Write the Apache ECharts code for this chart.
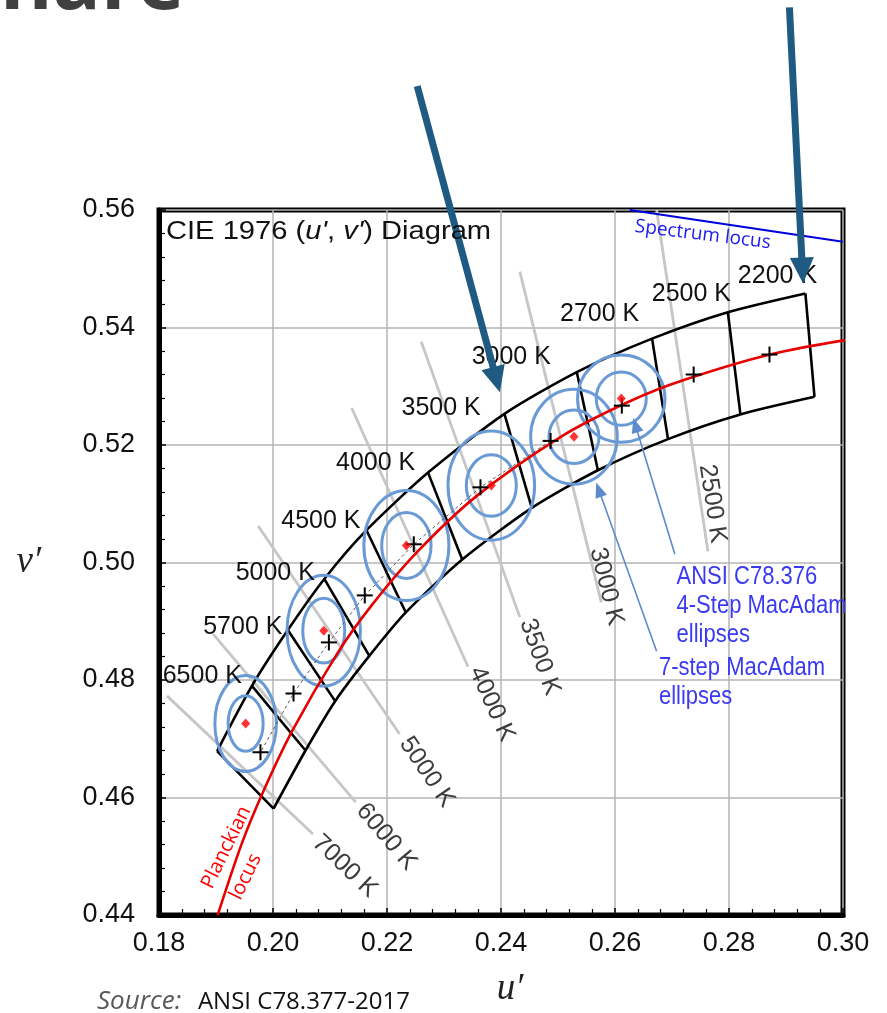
<!DOCTYPE html>
<html>
<head>
<meta charset="utf-8">
<script src="https://cdn.jsdelivr.net/npm/echarts@6/dist/echarts.min.js"></script>
<style>
html, body { margin: 0; padding: 0; background: #fff; }
#chart { width: 887px; height: 1013px; }
</style>
</head>
<body>
<div id="chart"></div>
<script>
// Planckian locus (u', v')
var planckU = [0.1903, 0.1945, 0.1981, 0.2033, 0.2114, 0.2173, 0.2251, 0.2357, 0.2505, 0.2625, 0.2722, 0.2876, 0.3051];
var planckV = [0.4400, 0.4521, 0.4606, 0.4712, 0.4847, 0.4927, 0.5016, 0.5113, 0.5214, 0.5274, 0.5311, 0.5355, 0.5386];

// spectrum locus piece in the top right corner
var spectrumU = [0.2626, 0.3000];
var spectrumV = [0.5600, 0.5546];

// ANSI nominal CCT centres (+) and their labels
var cctNames = ['2200 K', '2500 K', '2700 K', '3000 K', '3500 K', '4000 K', '4500 K', '5000 K', '5700 K', '6500 K'];
var centerU = [0.2871, 0.2738, 0.2612, 0.2487, 0.2364, 0.2247, 0.2161, 0.2098, 0.2036, 0.1978];
var centerV = [0.5354, 0.5320, 0.5267, 0.5207, 0.5128, 0.5031, 0.4944, 0.4864, 0.4777, 0.4677];
var cctLabelU = [0.2885, 0.2734, 0.2573, 0.2418, 0.2295, 0.2180, 0.2084, 0.2004, 0.1947, 0.1876];
var cctLabelV = [0.5488, 0.5457, 0.5422, 0.5349, 0.5262, 0.5169, 0.5071, 0.4982, 0.4890, 0.4807];

// quadrangle corners, from 7000 K side to 2000 K side
var upperU = [0.1902, 0.1963, 0.2026, 0.2090, 0.2164, 0.2272, 0.2406, 0.2533, 0.2665, 0.2798, 0.2934];
var upperV = [0.4679, 0.4790, 0.4885, 0.4972, 0.5055, 0.5153, 0.5253, 0.5324, 0.5381, 0.5426, 0.5458];
var lowerU = [0.2001, 0.2057, 0.2109, 0.2169, 0.2233, 0.2332, 0.2454, 0.2570, 0.2693, 0.2820, 0.2950];
var lowerV = [0.4581, 0.4680, 0.4764, 0.4841, 0.4915, 0.5005, 0.5093, 0.5157, 0.5210, 0.5252, 0.5282];

// MacAdam ellipses: centres (red diamonds) and semi axes
var ellU = [0.1952, 0.2089, 0.2234, 0.2383, 0.2528, 0.2611];
var ellV = [0.4726, 0.4884, 0.5029, 0.5131, 0.5214, 0.5279];
var step7RU = [0.00540, 0.00644, 0.00746, 0.00760, 0.00760, 0.00767];
var step7RV = [0.00816, 0.00943, 0.00935, 0.00930, 0.00807, 0.00743];
var step4RU = [0.00307, 0.00368, 0.00433, 0.00439, 0.00439, 0.00439];
var step4RV = [0.00473, 0.00552, 0.00561, 0.00524, 0.00454, 0.00454];

// isotherm lines (grey) and their labels
var isoNames = ['7000 K', '6000 K', '5000 K', '4000 K', '3500 K', '3000 K', '2500 K'];
var isoU1 = [0.1814, 0.1895, 0.1974, 0.2138, 0.2260, 0.2433, 0.2673];
var isoV1 = [0.4773, 0.4878, 0.5062, 0.5263, 0.5376, 0.5495, 0.5600];
var isoU2 = [0.2070, 0.2145, 0.2222, 0.2342, 0.2433, 0.2576, 0.2763];
var isoV2 = [0.4538, 0.4592, 0.4708, 0.4823, 0.4907, 0.4932, 0.5019];
var isoLabelU = [0.2126, 0.2199, 0.2270, 0.2384, 0.2468, 0.2585, 0.2771];
var isoLabelV = [0.4483, 0.4533, 0.4643, 0.4759, 0.4839, 0.4959, 0.5100];

// arrows: [u start, v start, u tip, v tip]
var bigArrows = [[0.2253, 0.5811, 0.2398, 0.5290], [0.2906, 0.5945, 0.2930, 0.5475]];
var thinArrows = [[0.2705, 0.5014, 0.2632, 0.5246], [0.2673, 0.4849, 0.2567, 0.5136]];

// notes
var noteTexts = ['Spectrum locus', 'Planckian', 'locus', 'ANSI C78.376\n4-Step MacAdam\nellipses', '7-step MacAdam\nellipses'];
var noteU = [0.2754, 0.1918, 0.1952, 0.2708, 0.2677];
var noteV = [0.5558, 0.4515, 0.4465, 0.5000, 0.4845];

var SANS = '"Liberation Sans", Arial, sans-serif';
var noteStyles = [
    { fill: '#1a1af0', font: '19px "Open Sans", sans-serif', rot: -7, align: 'center', va: 'middle', sx: 1 },
    { fill: '#ff0000', font: '20px "Open Sans", sans-serif', rot: 64, align: 'center', va: 'middle', sx: 1 },
    { fill: '#ff0000', font: '20px "Open Sans", sans-serif', rot: 64, align: 'center', va: 'middle', sx: 1 },
    { fill: '#3a3af2', font: '25px ' + SANS, rot: 0, align: 'left', va: 'top', sx: 0.88, lh: 29 },
    { fill: '#3a3af2', font: '25px ' + SANS, rot: 0, align: 'left', va: 'top', sx: 0.88, lh: 29 }
];

function pairs(us, vs) {
    return us.map(function (u, i) { return [u, vs[i]]; });
}

function arrowRender(color, width, headLen, headHalf) {
    return function (params, api) {
        var a = api.coord([api.value(0), api.value(1)]);
        var b = api.coord([api.value(2), api.value(3)]);
        var dx = b[0] - a[0], dy = b[1] - a[1];
        var L = Math.sqrt(dx * dx + dy * dy), ux = dx / L, uy = dy / L;
        var bx = b[0] - ux * headLen, by = b[1] - uy * headLen;
        return {
            type: 'group',
            children: [
                { type: 'line', shape: { x1: a[0], y1: a[1], x2: bx + ux * 2, y2: by + uy * 2 }, style: { stroke: color, lineWidth: width } },
                { type: 'polygon', shape: { points: [[b[0], b[1]], [bx - uy * headHalf, by + ux * headHalf], [bx + uy * headHalf, by - ux * headHalf]] }, style: { fill: color } }
            ]
        };
    };
}

var chart = echarts.init(document.getElementById('chart'));

var option = {
    animation: false,
    backgroundColor: '#fff',
    grid: {
        left: 159, right: 44, top: 210, bottom: 97,
        show: true, borderColor: '#000', borderWidth: 5, backgroundColor: 'transparent'
    },
    xAxis: {
        type: 'value', min: 0.18, max: 0.30, interval: 0.02,
        axisLine: { show: true, lineStyle: { color: '#000', width: 5 } },
        axisTick: { show: true, inside: true, length: 7, lineStyle: { color: '#000', width: 1.5 } },
        minorTick: { show: true, splitNumber: 5, length: 6, lineStyle: { color: '#000', width: 1.2 } },
        splitLine: { show: true, lineStyle: { color: '#b4b4b4', width: 1.5 } },
        axisLabel: { formatter: function (v) { return v.toFixed(2); }, fontSize: 27, color: '#111', fontFamily: SANS, margin: 15 },
        name: 'u\u2032', nameLocation: 'middle', nameGap: 56,
        nameTextStyle: { fontFamily: '"Liberation Serif", serif', fontStyle: 'italic', fontSize: 37, color: '#222', padding: [0, 0, 0, 18] }
    },
    yAxis: {
        type: 'value', min: 0.44, max: 0.56, interval: 0.02,
        axisLine: { show: true, lineStyle: { color: '#000', width: 5 } },
        axisTick: { show: true, inside: true, length: 7, lineStyle: { color: '#000', width: 1.5 } },
        minorTick: { show: true, splitNumber: 5, length: 6, lineStyle: { color: '#000', width: 1.2 } },
        splitLine: { show: true, lineStyle: { color: '#b4b4b4', width: 1.5 } },
        axisLabel: { formatter: function (v) { return v.toFixed(2); }, fontSize: 27, color: '#111', fontFamily: SANS, margin: 24 },
        name: 'v\u2032', nameLocation: 'middle', nameGap: 118, nameRotate: 0,
        nameTextStyle: { fontFamily: '"Liberation Serif", serif', fontStyle: 'italic', fontSize: 37, color: '#222' }
    },
    graphic: [
        {
            type: 'text', x: 166, y: 219, scaleX: 1.12, z: 100,
            style: {
                text: 'CIE 1976 ({i|u\'}, {i|v\'}) Diagram',
                font: '26px ' + SANS, fill: '#111',
                rich: { i: { fontStyle: 'italic', fontSize: 26, fontFamily: SANS, fill: '#111' } }
            }
        },
        {
            type: 'text', x: 97, y: 1002, z: 100,
            style: {
                text: '{s|Source:}  {n|ANSI C78.377-2017}',
                verticalAlign: 'middle',
                rich: {
                    s: { fontStyle: 'italic', fontSize: 26, fontFamily: '"Open Sans", sans-serif', fill: '#595959', padding: [0, 10, 0, 0] },
                    n: { fontSize: 24, fontFamily: '"Open Sans", sans-serif', fill: '#111' }
                }
            }
        },
        {
            type: 'text', x: 0, y: -14, z: 100,
            style: { text: 'nare', font: 'bold 80px "Open Sans", sans-serif', fill: '#404040', verticalAlign: 'middle' }
        }
    ],
    series: [
        {
            // grey isotherm lines
            type: 'custom', z: 2, silent: true,
            data: isoU1.map(function (u, i) { return [u, isoV1[i], isoU2[i], isoV2[i]]; }),
            renderItem: function (params, api) {
                var a = api.coord([api.value(0), api.value(1)]);
                var b = api.coord([api.value(2), api.value(3)]);
                return { type: 'line', shape: { x1: a[0], y1: a[1], x2: b[0], y2: b[1] }, style: { stroke: '#c6c6c6', lineWidth: 2.8 } };
            }
        },
        {
            // isotherm labels
            type: 'custom', z: 7, silent: true,
            data: pairs(isoLabelU, isoLabelV),
            renderItem: function (params, api) {
                var i = params.dataIndex;
                var c = api.coord([api.value(0), api.value(1)]);
                var a = api.coord([isoU1[i], isoV1[i]]);
                var b = api.coord([isoU2[i], isoV2[i]]);
                var rot = Math.atan2(-(b[1] - a[1]), b[0] - a[0]);
                return {
                    type: 'text', x: c[0], y: c[1], rotation: rot,
                    style: { text: isoNames[i], font: '25px ' + SANS, fill: '#3c3c3c', align: 'center', verticalAlign: 'middle' }
                };
            }
        },
        {
            name: 'Spectrum locus', type: 'line', z: 3, silent: true, showSymbol: false,
            data: pairs(spectrumU, spectrumV),
            lineStyle: { color: '#0000dd', width: 2 }
        },
        {
            name: 'upper', type: 'line', z: 3, silent: true, showSymbol: false, smooth: 0.25,
            data: pairs(upperU, upperV),
            lineStyle: { color: '#000', width: 2.6 }
        },
        {
            name: 'lower', type: 'line', z: 3, silent: true, showSymbol: false, smooth: 0.25,
            data: pairs(lowerU, lowerV),
            lineStyle: { color: '#000', width: 2.6 }
        },
        {
            // quadrangle isotherm edges
            type: 'custom', z: 3, silent: true,
            data: upperU.map(function (u, i) { return [u, upperV[i], lowerU[i], lowerV[i]]; }),
            renderItem: function (params, api) {
                var a = api.coord([api.value(0), api.value(1)]);
                var b = api.coord([api.value(2), api.value(3)]);
                return { type: 'line', shape: { x1: a[0], y1: a[1], x2: b[0], y2: b[1] }, style: { stroke: '#000', lineWidth: 2.6 } };
            }
        },
        {
            // MacAdam ellipses
            type: 'custom', z: 4, silent: true,
            data: ellU.map(function (u, i) { return [u, ellV[i], step7RU[i], step7RV[i], step4RU[i], step4RV[i]]; }),
            renderItem: function (params, api) {
                var c = api.coord([api.value(0), api.value(1)]);
                var s7 = api.size([api.value(2), api.value(3)]);
                var s4 = api.size([api.value(4), api.value(5)]);
                var st = { fill: 'none', stroke: '#6a9ad6', lineWidth: 3 };
                return {
                    type: 'group',
                    children: [
                        { type: 'ellipse', x: c[0], y: c[1], shape: { cx: 0, cy: 0, rx: s7[0], ry: s7[1] }, style: st },
                        { type: 'ellipse', x: c[0], y: c[1], shape: { cx: 0, cy: 0, rx: s4[0], ry: s4[1] }, style: st }
                    ]
                };
            }
        },
        {
            name: 'Planckian locus', type: 'line', z: 5, silent: true, showSymbol: false, smooth: 0.3,
            data: pairs(planckU, planckV),
            lineStyle: { color: '#e60000', width: 2.6 }
        },
        {
            name: 'nominal', type: 'line', z: 5, silent: true, showSymbol: false,
            data: pairs(centerU.slice(3), centerV.slice(3)),
            lineStyle: { color: '#555', width: 1, type: [3, 3] }
        },
        {
            // + markers
            type: 'custom', z: 6, silent: true,
            data: pairs(centerU, centerV),
            renderItem: function (params, api) {
                var c = api.coord([api.value(0), api.value(1)]);
                var h = 8;
                return {
                    type: 'group',
                    children: [
                        { type: 'line', shape: { x1: c[0] - h, y1: c[1], x2: c[0] + h, y2: c[1] }, style: { stroke: '#000', lineWidth: 2 } },
                        { type: 'line', shape: { x1: c[0], y1: c[1] - h, x2: c[0], y2: c[1] + h }, style: { stroke: '#000', lineWidth: 2 } }
                    ]
                };
            }
        },
        {
            name: 'ellipse centres', type: 'scatter', z: 6, silent: true,
            symbol: 'diamond', symbolSize: [9, 10],
            itemStyle: { color: '#ff0000' },
            data: pairs(ellU, ellV)
        },
        {
            // CCT labels
            type: 'custom', z: 7, silent: true,
            data: pairs(cctLabelU, cctLabelV),
            renderItem: function (params, api) {
                var c = api.coord([api.value(0), api.value(1)]);
                return {
                    type: 'text', x: c[0], y: c[1],
                    style: { text: cctNames[params.dataIndex], font: '25px ' + SANS, fill: '#111', align: 'center', verticalAlign: 'middle' }
                };
            }
        },
        {
            // notes
            type: 'custom', z: 7, silent: true,
            data: pairs(noteU, noteV),
            renderItem: function (params, api) {
                var c = api.coord([api.value(0), api.value(1)]);
                var s = noteStyles[params.dataIndex];
                return {
                    type: 'text', x: c[0], y: c[1], rotation: s.rot * Math.PI / 180, scaleX: s.sx,
                    style: { text: noteTexts[params.dataIndex], font: s.font, fill: s.fill, align: s.align, verticalAlign: s.va, lineHeight: s.lh }
                };
            }
        },
        {
            type: 'custom', z: 8, silent: true,
            data: thinArrows,
            renderItem: arrowRender('#5b8bcc', 1.6, 15, 6)
        },
        {
            type: 'custom', z: 9, silent: true,
            data: bigArrows,
            renderItem: arrowRender('#1f5a82', 7, 26, 12)
        }
    ]
};

chart.setOption(option);
</script>
</body>
</html>
